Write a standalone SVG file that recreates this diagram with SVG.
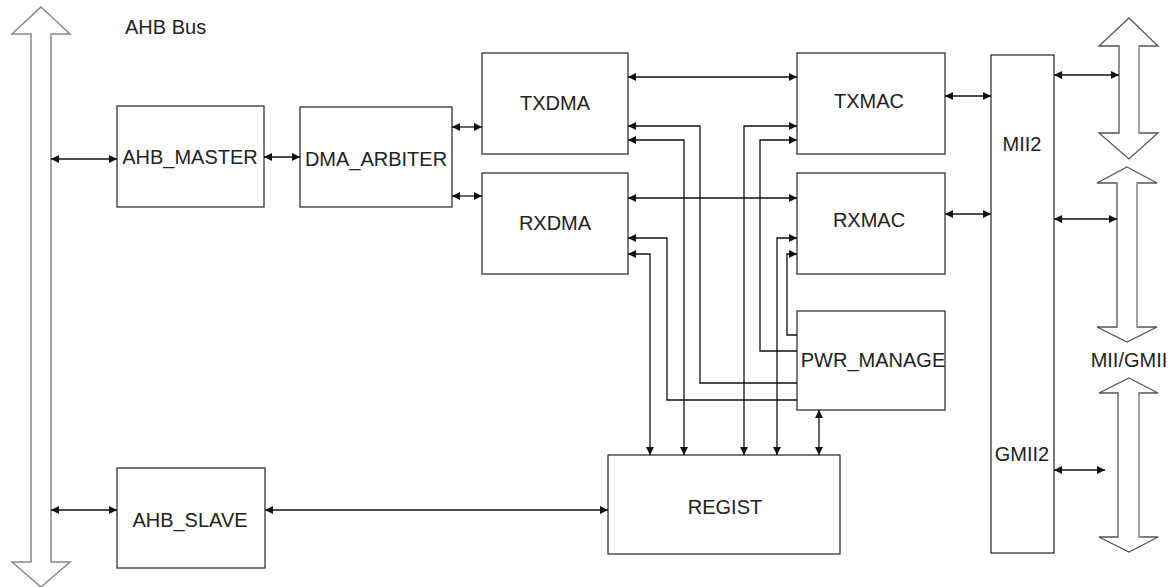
<svg xmlns="http://www.w3.org/2000/svg" width="1175" height="587" viewBox="0 0 1175 587">
<style>
.box{fill:#fff;stroke:#333;stroke-width:1.3}
.lbl{font-family:"Liberation Sans",Arial,sans-serif;font-size:20px;fill:#222;text-anchor:middle}
.c{fill:none;stroke:#111;stroke-width:1.3}
.bus{fill:#fff;stroke:#888;stroke-width:1.5}
.busd{fill:#fff;stroke:#555;stroke-width:1.3}
</style>
<defs>
<marker id="a" viewBox="0 0 10 10" refX="10" refY="5" markerWidth="10" markerHeight="8" markerUnits="userSpaceOnUse" orient="auto-start-reverse">
<path d="M0,0 L10,5 L0,10 z" fill="#111"/>
</marker>
</defs>
<g id="buses">
<polygon class="bus" points="41,7 70,34 51,34 51,562 70,562 41,587 12,562 31,562 31,34 12,34"/>
<polygon class="busd" points="1129,18 1158,46 1139,46 1139,133 1158,133 1129,159 1099,133 1119,133 1119,46 1099,46"/>
<line x1="1139" y1="46" x2="1139" y2="133" stroke="#aaa" stroke-width="1.5"/>
<polygon class="busd" points="1127,167 1157,183 1137,183 1137,327 1157,327 1127,342 1097,327 1117,327 1117,183 1097,183"/>
<line x1="1137" y1="183" x2="1137" y2="327" stroke="#aaa" stroke-width="1.5"/>
<polygon class="busd" points="1129,378 1158,393 1139,393 1139,537 1158,537 1129,552 1099,537 1118,537 1118,393 1099,393"/>
<line x1="1139" y1="393" x2="1139" y2="537" stroke="#aaa" stroke-width="1.5"/>
<text x="125" y="34" font-family="Liberation Sans,Arial,sans-serif" font-size="20" fill="#222">AHB Bus</text>
<text x="1129" y="367" class="lbl">MII/GMII</text>
</g>
<g id="AHB_MASTER"><rect class="box" x="117" y="106" width="147" height="101"/><text class="lbl" x="190" y="164">AHB_MASTER</text></g>
<g id="DMA_ARBITER"><rect class="box" x="300" y="107" width="152" height="100"/><text class="lbl" x="376" y="166">DMA_ARBITER</text></g>
<g id="TXDMA"><rect class="box" x="482" y="53" width="146" height="101"/><text class="lbl" x="555" y="110">TXDMA</text></g>
<g id="RXDMA"><rect class="box" x="482" y="173" width="146" height="101"/><text class="lbl" x="555" y="230">RXDMA</text></g>
<g id="TXMAC"><rect class="box" x="797" y="53" width="148" height="101"/><text class="lbl" x="869" y="108">TXMAC</text></g>
<g id="RXMAC"><rect class="box" x="797" y="173" width="148" height="101"/><text class="lbl" x="869" y="227">RXMAC</text></g>
<g id="PWR_MANAGE"><rect class="box" x="797" y="311" width="148" height="99"/><text class="lbl" x="873" y="367">PWR_MANAGE</text></g>
<g id="REGIST"><rect class="box" x="608" y="455" width="232" height="99"/><text class="lbl" x="725" y="514">REGIST</text></g>
<g id="AHB_SLAVE"><rect class="box" x="117" y="468" width="148" height="100"/><text class="lbl" x="190" y="527">AHB_SLAVE</text></g>
<g id="MII2"><rect class="box" x="991" y="55" width="63" height="498"/><text class="lbl" x="1022" y="151">MII2</text><text class="lbl" x="1022" y="461">GMII2</text></g>
<g id="connectors">
<path class="c" marker-start="url(#a)" marker-end="url(#a)" d="M51,159 H117"/>
<path class="c" marker-start="url(#a)" marker-end="url(#a)" d="M264,157 H300"/>
<path class="c" marker-start="url(#a)" marker-end="url(#a)" d="M452,127 H482"/>
<path class="c" marker-start="url(#a)" marker-end="url(#a)" d="M452,196 H482"/>
<path class="c" marker-start="url(#a)" marker-end="url(#a)" d="M628,77 H797"/>
<path class="c" marker-start="url(#a)" marker-end="url(#a)" d="M628,198 H797"/>
<path class="c" marker-start="url(#a)" marker-end="url(#a)" d="M945,96 H991"/>
<path class="c" marker-start="url(#a)" marker-end="url(#a)" d="M945,214 H991"/>
<path class="c" marker-start="url(#a)" marker-end="url(#a)" d="M1054,75 H1119"/>
<path class="c" marker-start="url(#a)" marker-end="url(#a)" d="M1054,219 H1117"/>
<path class="c" marker-start="url(#a)" marker-end="url(#a)" d="M1054,470 H1105"/>
<path class="c" marker-start="url(#a)" marker-end="url(#a)" d="M51,510 H117"/>
<path class="c" marker-start="url(#a)" marker-end="url(#a)" d="M265,510 H608"/>
<path class="c" marker-start="url(#a)" marker-end="url(#a)" d="M819,410 V455"/>
<path class="c" marker-start="url(#a)" marker-end="url(#a)" d="M650,455 V254 H628"/>
<path class="c" marker-start="url(#a)" marker-end="url(#a)" d="M684,455 V140 H628"/>
<path class="c" marker-start="url(#a)" marker-end="url(#a)" d="M744,455 V126 H797"/>
<path class="c" marker-start="url(#a)" marker-end="url(#a)" d="M777,455 V238 H797"/>
<path class="c" marker-end="url(#a)" d="M797,335 H787 V254 H797"/>
<path class="c" marker-end="url(#a)" d="M797,351 H760 V140 H797"/>
<path class="c" marker-end="url(#a)" d="M797,383 H700 V126 H628"/>
<path class="c" marker-end="url(#a)" d="M797,400 H667 V238 H628"/>
</g>
</svg>
